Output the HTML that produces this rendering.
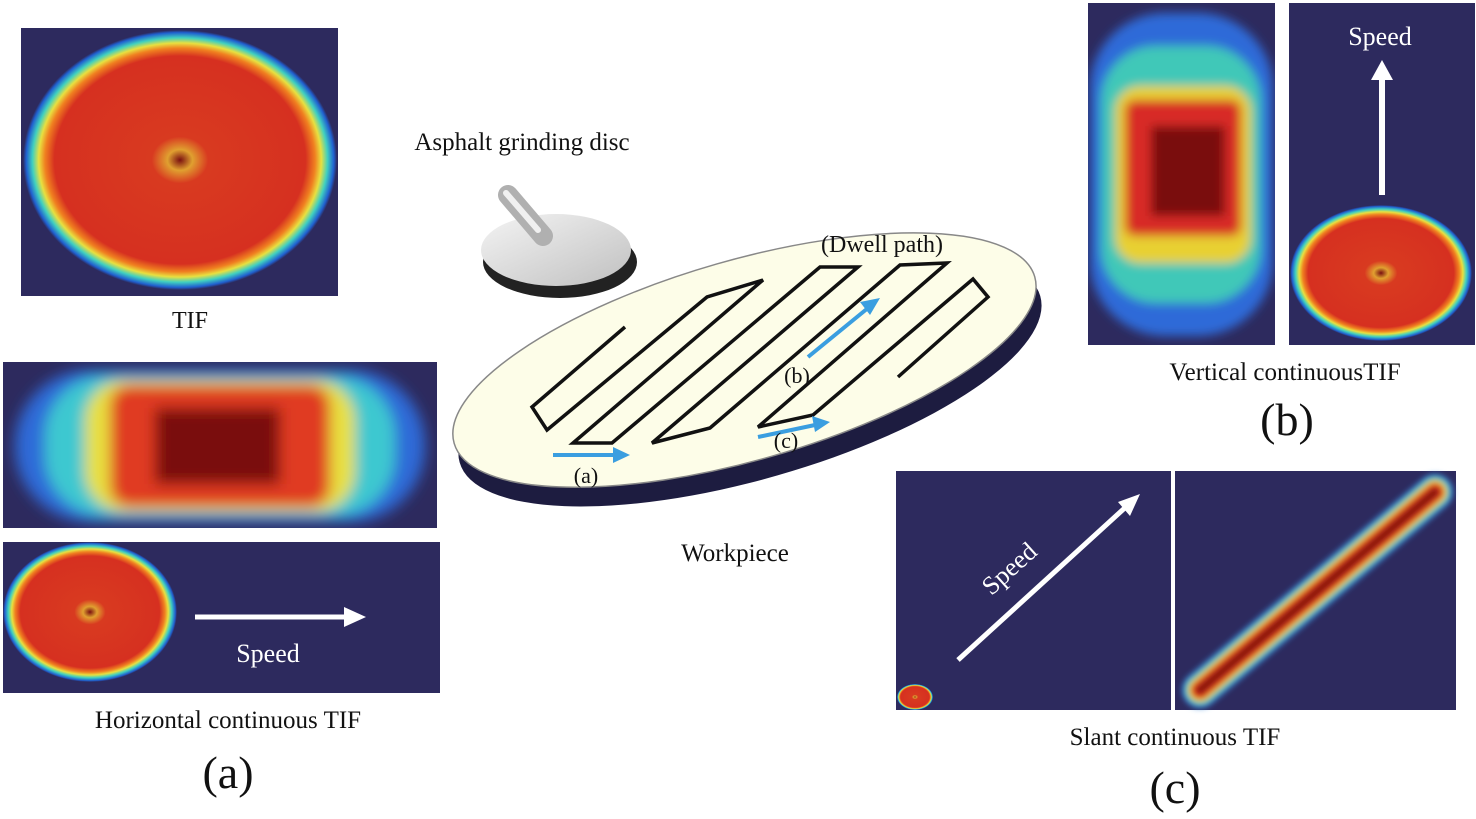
<!DOCTYPE html>
<html><head><meta charset="utf-8"><style>
html,body{margin:0;padding:0;background:#fff}
svg{display:block}
text{font-family:"Liberation Serif",serif;fill:#111}
</style></head><body>
<svg width="1476" height="819" viewBox="0 0 1476 819" xmlns="http://www.w3.org/2000/svg">
<defs>
<radialGradient id="tif" cx="50%" cy="50%" r="50%">
<stop offset="0" stop-color="#7a1010"/><stop offset="0.08" stop-color="#e0a030"/><stop offset="0.18" stop-color="#d83a20"/>
<stop offset="0.8" stop-color="#d63020"/><stop offset="0.86" stop-color="#f08020"/><stop offset="0.9" stop-color="#e8e040"/>
<stop offset="0.94" stop-color="#40d0c0"/><stop offset="0.98" stop-color="#2060d0"/><stop offset="1" stop-color="#2d2a5e"/>
</radialGradient>
<filter id="bl" x="-20%" y="-20%" width="140%" height="140%"><feGaussianBlur stdDeviation="7"/></filter>
<filter id="bl3" x="-20%" y="-20%" width="140%" height="140%"><feGaussianBlur stdDeviation="5"/></filter>
<filter id="bl2" x="-20%" y="-20%" width="140%" height="140%"><feGaussianBlur stdDeviation="3"/></filter>
<linearGradient id="disc" x1="0" y1="0" x2="1" y2="1"><stop offset="0" stop-color="#f4f4f4"/><stop offset="1" stop-color="#c0c0c0"/></linearGradient>
<clipPath id="ch"><rect x="3" y="362" width="434" height="166"/></clipPath>
<clipPath id="cv"><rect x="1088" y="3" width="187" height="342"/></clipPath>
</defs>

<!-- TIF -->
<rect x="21" y="28" width="317" height="268" fill="#2d2a5e"/>
<ellipse cx="180" cy="160" rx="157" ry="130" fill="url(#tif)"/>
<text x="190" y="328" font-size="24" text-anchor="middle">TIF</text>

<!-- Horizontal continuous -->
<rect x="3" y="362" width="434" height="166" fill="#2d2a5e"/>
<g clip-path="url(#ch)" filter="url(#bl)">
<rect x="15" y="370" width="410" height="152" rx="75" fill="#2f6ad8"/>
<rect x="45" y="376" width="350" height="140" rx="60" fill="#3cc8d0"/>
<rect x="85" y="380" width="270" height="132" rx="40" fill="#e8e040"/>
<rect x="110" y="385" width="220" height="122" rx="20" fill="#e03a20"/>
<rect x="155" y="408" width="125" height="76" fill="#7a1010"/>
</g>
<rect x="3" y="542" width="437" height="151" fill="#2d2a5e"/>
<ellipse cx="90" cy="612" rx="87" ry="70" fill="url(#tif)"/>
<line x1="195" y1="617" x2="348" y2="617" stroke="#fff" stroke-width="5"/>
<polygon points="366,617 344,607 344,627" fill="#fff"/>
<text x="268" y="662" font-size="26" text-anchor="middle" style="fill:#fff">Speed</text>
<text x="228" y="728" font-size="25" text-anchor="middle">Horizontal continuous TIF</text>
<text x="228" y="788" font-size="46" text-anchor="middle">(a)</text>

<!-- Center -->
<text x="522" y="150" font-size="25" text-anchor="middle">Asphalt grinding disc</text>
<g>
<ellipse cx="560" cy="262" rx="77" ry="36" fill="#222"/>
<ellipse cx="556" cy="250" rx="75" ry="36" fill="url(#disc)"/>
<line x1="508" y1="195" x2="543" y2="236" stroke="#b0b0b0" stroke-width="20" stroke-linecap="round"/>
<line x1="506" y1="193" x2="538" y2="230" stroke="#f0f0f0" stroke-width="6" stroke-linecap="round"/>
</g>
<g transform="rotate(-16 745 362)">
<ellipse cx="745" cy="380" rx="302" ry="100" fill="#1d1c40"/>
<ellipse cx="745" cy="360" rx="302" ry="100" fill="#fdfde8" stroke="#888" stroke-width="1.5"/>
</g>
<polyline points="625,327 532,407 547,430 707,297 763,280 573,443 612,443 820,267 858,267 652,443 710,428 900,265 947,263 758,427 813,415 973,279 988,297 898,377" fill="none" stroke="#111" stroke-width="3.5" stroke-linejoin="miter"/>
<g stroke="#3a9ee0" stroke-width="4"><line x1="553" y1="455" x2="615" y2="455"/><line x1="808" y1="357" x2="868" y2="308"/><line x1="758" y1="437" x2="815" y2="425"/></g>
<g fill="#3a9ee0"><polygon points="630,455 613,447 613,463"/><polygon points="880,298 860,302 870,315"/><polygon points="830,422 812,416 815,432"/></g>
<text x="882" y="252" font-size="24" text-anchor="middle">(Dwell path)</text>
<text x="797" y="383" font-size="22" text-anchor="middle">(b)</text>
<text x="786" y="448" font-size="22" text-anchor="middle">(c)</text>
<text x="586" y="483" font-size="22" text-anchor="middle">(a)</text>
<text x="735" y="561" font-size="25" text-anchor="middle">Workpiece</text>

<!-- (b) panels -->
<rect x="1088" y="3" width="187" height="342" fill="#2d2a5e"/>
<g clip-path="url(#cv)" filter="url(#bl3)">
<rect x="1090" y="13" width="183" height="323" rx="75" fill="#2f6ad8"/>
<rect x="1101" y="46" width="160" height="257" rx="55" fill="#40c8b8"/>
<rect x="1115" y="86" width="136" height="177" rx="25" fill="#e8d030"/>
<rect x="1125" y="100" width="116" height="136" rx="10" fill="#d82a28"/>
<rect x="1151" y="126" width="74" height="90" fill="#7a1010"/>
</g>
<rect x="1289" y="3" width="186" height="342" fill="#2d2a5e"/>
<ellipse cx="1381" cy="273" rx="91" ry="68" fill="url(#tif)"/>
<line x1="1382" y1="195" x2="1382" y2="78" stroke="#fff" stroke-width="6"/>
<polygon points="1382,60 1371,80 1393,80" fill="#fff"/>
<text x="1380" y="45" font-size="26" text-anchor="middle" style="fill:#fff">Speed</text>
<text x="1285" y="380" font-size="25" text-anchor="middle">Vertical continuousTIF</text>
<text x="1287" y="435" font-size="46" text-anchor="middle">(b)</text>

<!-- (c) panels -->
<rect x="896" y="471" width="275" height="239" fill="#2d2a5e"/>
<rect x="1175" y="471" width="281" height="239" fill="#2d2a5e"/>
<ellipse cx="915" cy="697" rx="18" ry="13" fill="url(#tif)"/>
<line x1="958" y1="660" x2="1128" y2="505" stroke="#fff" stroke-width="5"/>
<polygon points="1140,494 1118,502 1130,516" fill="#fff"/>
<text x="0" y="0" font-size="26" text-anchor="middle" style="fill:#fff" transform="translate(1015,575) rotate(-42)">Speed</text>
<g filter="url(#bl2)">
<line x1="1200" y1="690" x2="1435" y2="492" stroke="#3a80d8" stroke-width="36" stroke-linecap="round"/>
<line x1="1200" y1="690" x2="1435" y2="492" stroke="#40c8b8" stroke-width="30" stroke-linecap="round"/>
<line x1="1200" y1="690" x2="1435" y2="492" stroke="#e8d030" stroke-width="24" stroke-linecap="round"/>
<line x1="1200" y1="690" x2="1435" y2="492" stroke="#e03a20" stroke-width="18" stroke-linecap="round"/>
<line x1="1200" y1="690" x2="1435" y2="492" stroke="#8a1410" stroke-width="9" stroke-linecap="round"/>
</g>
<text x="1175" y="745" font-size="25" text-anchor="middle">Slant continuous TIF</text>
<text x="1175" y="803" font-size="46" text-anchor="middle">(c)</text>
</svg>
</body></html>
